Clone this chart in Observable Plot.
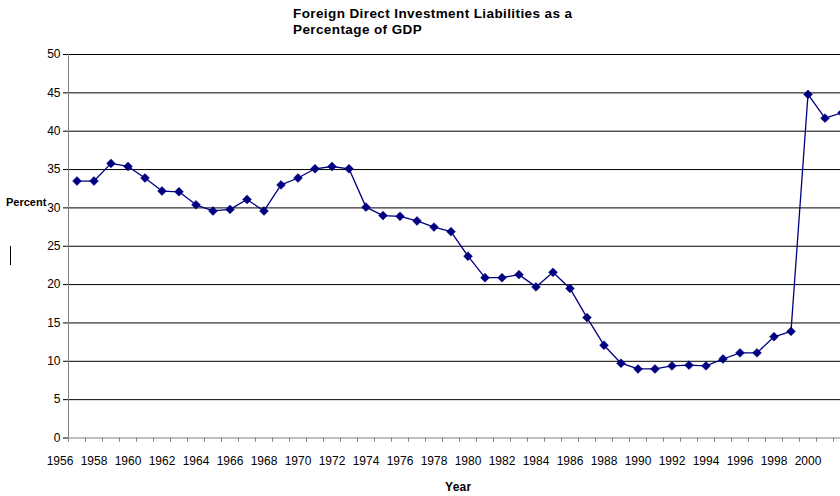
<!DOCTYPE html>
<html><head><meta charset="utf-8">
<script src="https://cdn.jsdelivr.net/npm/d3@7"></script>
<script src="https://cdn.jsdelivr.net/npm/@observablehq/plot@0.6"></script>
<style>
body{margin:0;background:#fff;font-family:"Liberation Sans",Arial,sans-serif;color:#000;}
#wrap{position:relative;width:840px;height:496px;overflow:hidden;}
#chart{position:absolute;left:0;top:0;}
#title{position:absolute;left:293px;top:6px;font-weight:bold;font-size:13.5px;letter-spacing:0.4px;line-height:16px;}
#ylab{position:absolute;left:6px;top:196px;font-weight:bold;font-size:11px;line-height:13px;}
#xlab{position:absolute;left:445px;top:480px;font-weight:bold;font-size:12px;line-height:14px;letter-spacing:0.3px;}
#mark{position:absolute;left:10px;top:246px;width:1px;height:19px;background:#000;}
</style>
</head><body>
<div id="wrap">
  <div id="chart"></div>
  <div id="title">Foreign Direct Investment Liabilities as a<br>Percentage of GDP</div>
  <div id="ylab">Percent</div>
  <div id="xlab">Year</div>
  <div id="mark"></div>
</div>
<script>
const years = [1957,1958,1959,1960,1961,1962,1963,1964,1965,1966,1967,1968,1969,1970,1971,1972,1973,
  1974,1975,1976,1977,1978,1979,1980,1981,1982,1983,1984,1985,1986,1987,1988,1989,
  1990,1991,1992,1993,1994,1995,1996,1997,1998,1999,2000,2001,2002];
const fdiPct = [33.5,33.5,35.8,35.4,33.9,32.2,32.1,30.4,29.6,29.8,31.1,29.6,33.0,33.9,35.1,35.4,35.1,
  30.1,29.0,28.9,28.3,27.5,26.9,23.7,20.9,20.9,21.3,19.7,21.6,19.5,15.7,12.1,9.75,
  9.0,9.0,9.4,9.5,9.4,10.3,11.1,11.1,13.2,13.9,44.8,41.7,42.4];
const xTickYears = [1956,1958,1960,1962,1964,1966,1968,1970,1972,1974,1976,1978,1980,1982,1984,1986,1988,1990,1992,1994,1996,1998,2000];
const yTicks = [0,5,10,15,20,25,30,35,40,45,50];

const data = years.map((y, i) => ({year: y, pct: fdiPct[i]}));
const boundaries = years.map(y => y - 0.5).concat([years[years.length - 1] + 0.5]);
const pxPerYear = 17;
const x0 = years[0] - 0.5;

const chart = Plot.plot({
  width: 840, height: 496,
  marginTop: 54, marginBottom: 58.5, marginLeft: 68, marginRight: 0,
  style: {fontFamily: "'Liberation Sans', Arial, sans-serif", fontSize: "12px", color: "#000", background: "transparent", overflow: "visible"},
  x: {domain: [x0, x0 + 772 / pxPerYear], ticks: xTickYears, tickSize: 0, tickPadding: 18, tickFormat: d => String(d), label: null},
  y: {domain: [0, 50], ticks: yTicks, tickSize: 5, tickPadding: 3, label: null},
  marks: [
    Plot.ruleY(yTicks.filter(t => t > 0), {stroke: "#000", strokeWidth: 1}),
    Plot.ruleY([0], {stroke: "#808080"}),
    Plot.ruleX([x0], {stroke: "#808080"}),
    Plot.ruleX(boundaries, {y1: 0, y2: -0.55, stroke: "#808080"}),
    Plot.line(data, {x: "year", y: "pct", stroke: "#000080", strokeWidth: 1.3}),
    Plot.dot(data, {x: "year", y: "pct", symbol: "diamond2", r: 4, fill: "#000080", stroke: "#000080", strokeWidth: 0.5})
  ]
});
document.getElementById("chart").appendChild(chart);
</script>
</body></html>
